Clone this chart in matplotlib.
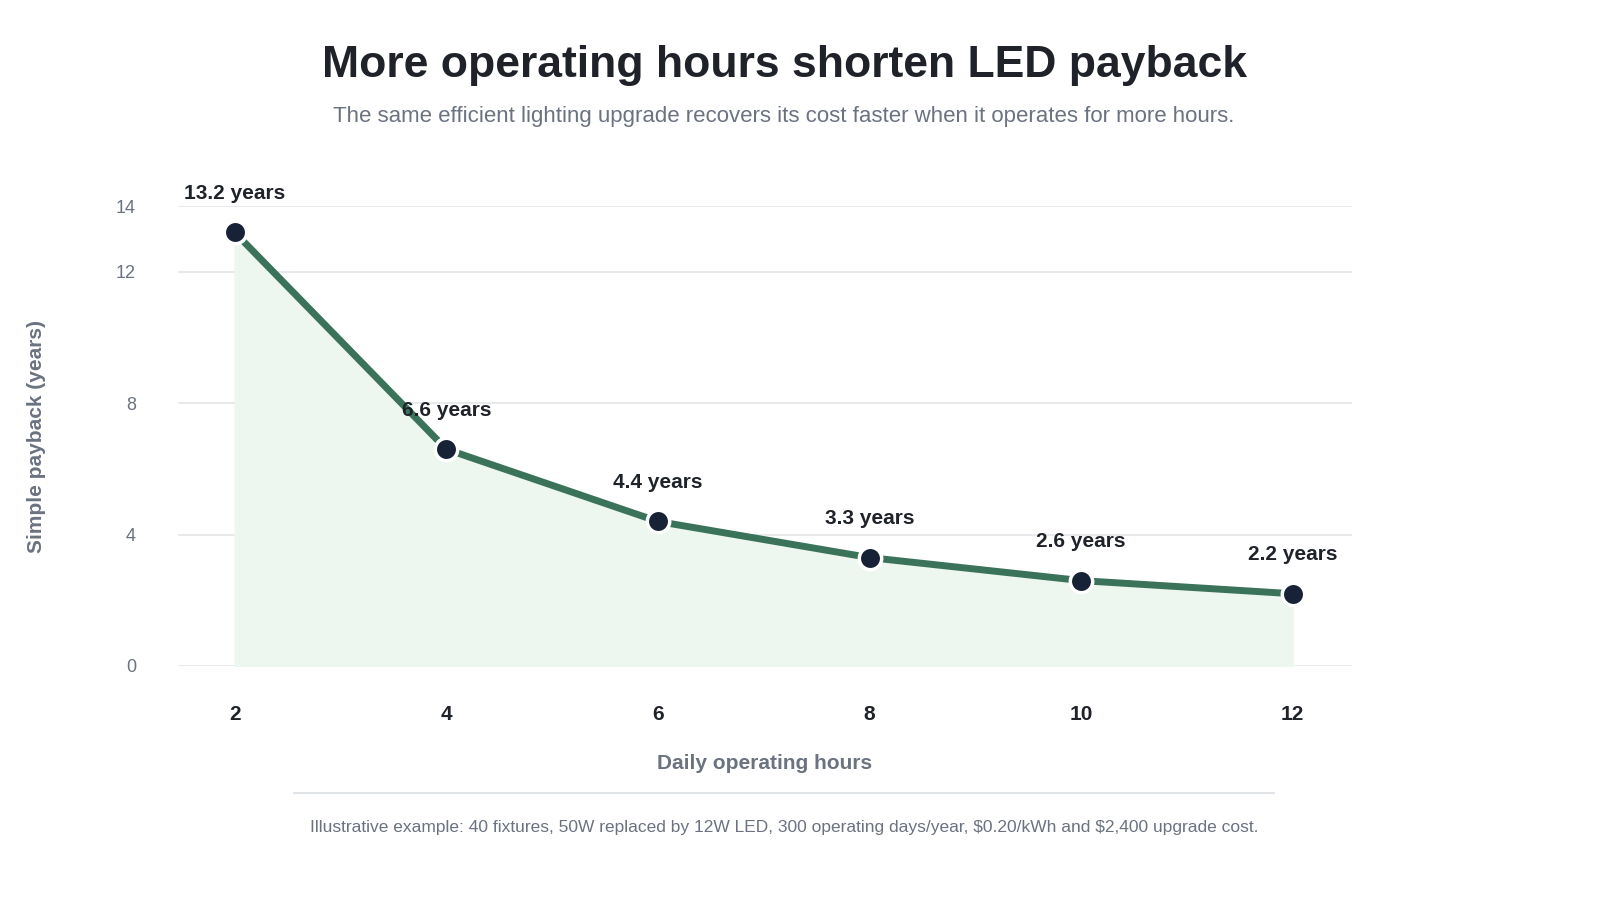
import matplotlib.pyplot as plt
from matplotlib.lines import Line2D

plt.rcParams['font.family'] = ['Liberation Sans', 'DejaVu Sans']

hours = [2, 4, 6, 8, 10, 12]
payback = [13.2, 6.6, 4.4, 3.3, 2.6, 2.2]
labels = ["13.2 years", "6.6 years", "4.4 years", "3.3 years", "2.6 years", "2.2 years"]
yticks = [0, 4, 8, 12, 14]

fig = plt.figure(figsize=(16, 9), dpi=100)
ax = fig.add_axes([0.111, 0.26, 0.734, 0.511])

ax.fill_between(hours, payback, 0, color='#edf6ef', zorder=1)
ax.plot(hours, payback, color='#3a7359', lw=5, zorder=2, solid_capstyle='round')
ax.scatter(hours, payback, s=260, color='#172236', edgecolor='white', linewidth=2.5, zorder=3)
for x, y, t in zip(hours, payback, labels):
    ax.annotate(t, (x, y), xytext=(0, 24), textcoords='offset points', ha='center',
                fontsize=15, fontweight='bold', color='#1f2329', zorder=4)

ax.set_xlim(1.46, 12.56)
ax.set_ylim(0, 14)
ax.set_yticks(yticks)
ax.set_xticks(hours)
ax.grid(axis='y', color='#e3e5e8', lw=1.2)
ax.set_axisbelow(True)
for s in ax.spines.values():
    s.set_visible(False)
ax.tick_params(axis='y', length=0, labelsize=13, labelcolor='#6b7280', pad=30)
ax.tick_params(axis='x', length=0, labelsize=15, pad=28)
for lbl in ax.get_xticklabels():
    lbl.set_fontweight('bold')
    lbl.set_color('#1f2329')
ax.set_xlabel("Daily operating hours", fontsize=15, fontweight='bold', color='#6b7280', labelpad=22)
ax.set_ylabel("Simple payback (years)", fontsize=15, fontweight='bold', color='#6b7280', labelpad=50)

fig.text(0.49, 0.927, "More operating hours shorten LED payback", ha='center', va='center',
         fontsize=32, fontweight='bold', color='#1f2329')
fig.text(0.49, 0.871, "The same efficient lighting upgrade recovers its cost faster when it operates for more hours.",
         ha='center', va='center', fontsize=16, color='#6b7280')
fig.add_artist(Line2D([0.184, 0.796], [0.119, 0.119], transform=fig.transFigure, color='#dcdfe3', lw=1.2))
fig.text(0.49, 0.081, r"Illustrative example: 40 fixtures, 50W replaced by 12W LED, 300 operating days/year, \$0.20/kWh and \$2,400 upgrade cost.",
         ha='center', va='center', fontsize=12.5, color='#6b7280')

fig.savefig('out.png', dpi=100, facecolor='white')
